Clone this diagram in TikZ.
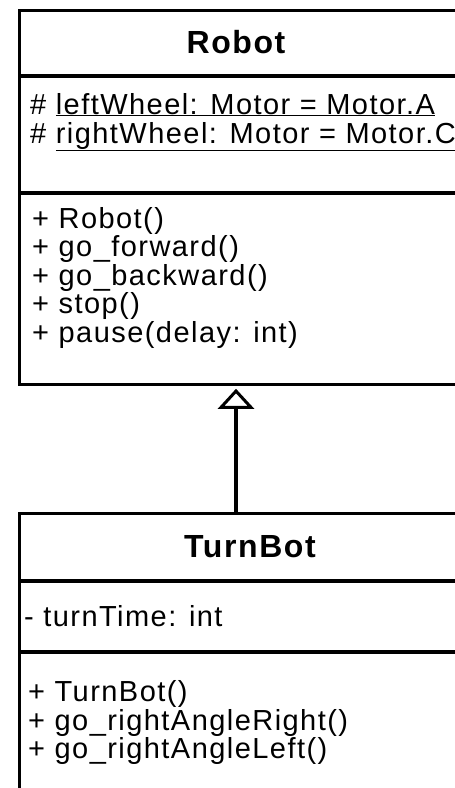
\documentclass[tikz,border=0pt]{standalone}
\usepackage{fontspec}
\setmainfont[LetterSpace=5]{Liberation Sans}
\usetikzlibrary{arrows.meta}

\tikzset{
  umlline/.style={line width=3.3pt, black},
  classbox/.style={draw, umlline, rectangle, inner sep=0pt, anchor=north west},
  classtitle/.style={font=\fontsize{32}{38}\selectfont\bfseries, inner sep=0pt, anchor=base},
  member/.style={font=\fontsize{29}{34}\selectfont, inner sep=0pt, anchor=base west},
  inherits/.style={umlline, -{Triangle[open, length=20pt, width=36pt, line width=3pt]}, shorten >=3pt},
}

\begin{document}
\begin{tikzpicture}[x=1pt, y=-1pt]
  \useasboundingbox (0,0) rectangle (455,788);
  \clip (0,0) rectangle (455,788);

  % class Robot
  \node[classbox, minimum width=452pt, minimum height=374pt] (robot) at (18,8.5) {};
  \draw[umlline] (18,76) -- (480,76);
  \draw[umlline] (18,193) -- (480,193);
  \node[classtitle] (robotname) at (236,53) {Robot};
  \node[member] (rattr1) at (30,114) {\# \underline{leftWheel: Motor = Motor.A}};
  \node[member] (rattr2) at (30,143) {\# \underline{rightWheel: Motor = Motor.C}};
  \node[member] (rop1) at (32,228) {+ Robot()};
  \node[member] (rop2) at (32,256) {+ go\_forward()};
  \node[member] (rop3) at (32,285) {+ go\_backward()};
  \node[member] (rop4) at (32,313) {+ stop()};
  \node[member] (rop5) at (32,342) {+ pause(delay: int)};

  % class TurnBot
  \node[classbox, minimum width=480pt, minimum height=300pt] (turnbot) at (18,512) {};
  \draw[umlline] (18,581) -- (500,581);
  \draw[umlline] (18,652) -- (500,652);
  \node[classtitle] (turnbotname) at (250,557) {TurnBot};
  \node[member] (tattr1) at (24,626) {- turnTime: int};
  \node[member] (top1) at (28,701) {+ TurnBot()};
  \node[member] (top2) at (28,730) {+ go\_rightAngleRight()};
  \node[member] (top3) at (28,758) {+ go\_rightAngleLeft()};

  % generalisation TurnBot -> Robot
  \coordinate (gx) at (236,0);
  \draw[inherits] (turnbot.north -| gx) -- (robot.south -| gx);
\end{tikzpicture}
\end{document}
